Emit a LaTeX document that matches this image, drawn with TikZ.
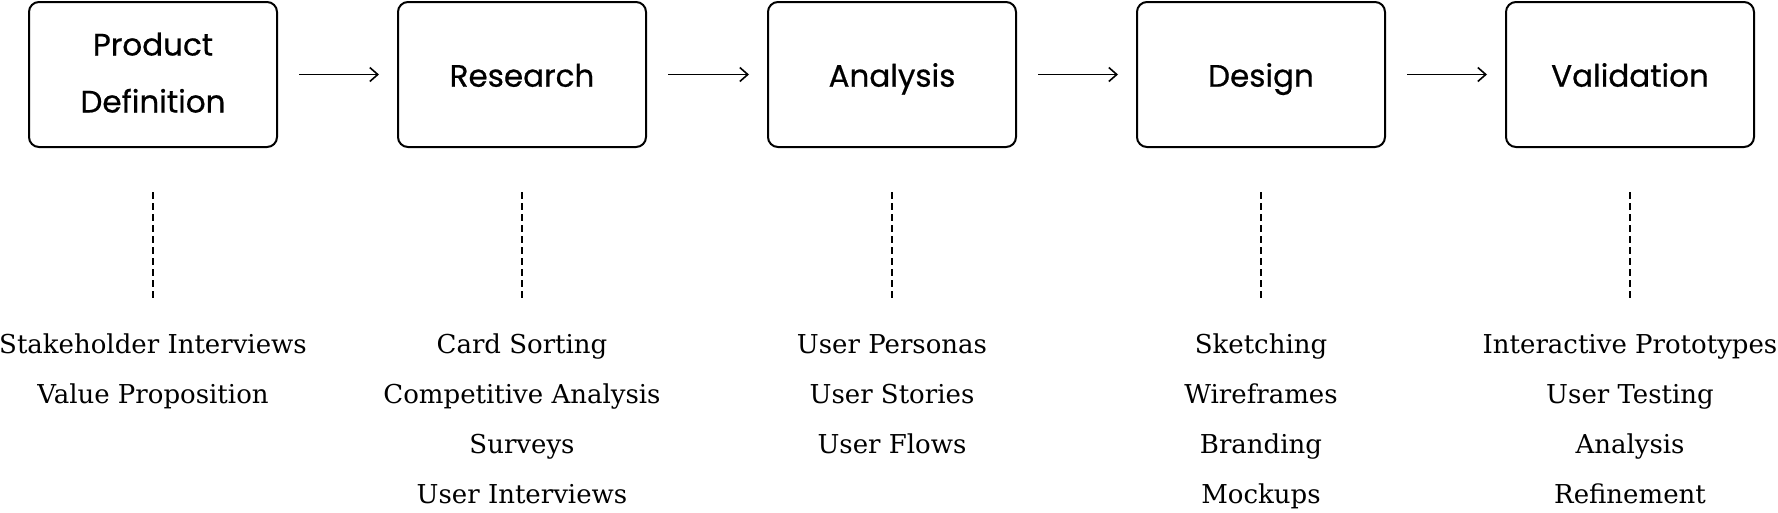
\documentclass[tikz,border=0pt]{standalone}
\usepackage{fontspec}
\newfontfamily\headfont{Poppins}[FakeBold=0.6]
\newfontfamily\itemfont{DejaVu Serif}
\usetikzlibrary{arrows.meta}
\newcommand{\oneline}[1]{\rule[-10pt]{0pt}{44.4pt}#1}
\begin{document}
\begin{tikzpicture}[x=1pt,y=-1pt,
  stage/.style={draw, line width=2pt, rounded corners=10pt, minimum width=248pt,
    minimum height=145pt, inner sep=0pt,
    font=\headfont\fontsize{31}{57}\selectfont},
  flow/.style={line width=1.6pt, -{Straight Barb[length=8pt,width=14pt]}},
  link/.style={line width=1.6pt, dash pattern=on 7pt off 4pt},
  items/.style={anchor=north, align=center, inner sep=0pt,
    font=\itemfont\fontsize{26}{50}\selectfont}]
\useasboundingbox (0,0) rectangle (1778,512);
\node[stage] (pd) at (153,74.5) {\begin{tabular}{@{}c@{}}Product\\Definition\rule[-20.9pt]{0pt}{0pt}\end{tabular}};
\node[stage] (re) at (522,74.5) {\oneline{Research}};
\node[stage] (an) at (892,74.5) {\oneline{Analysis}};
\node[stage] (de) at (1261,74.5) {\oneline{Design}};
\node[stage] (va) at (1630,74.5) {\oneline{Validation}};
\foreach \a/\b in {pd/re,re/an,an/de,de/va}
  \draw[flow] ([xshift=21pt]\a.east) -- ([xshift=-18pt]\b.west);
\node[items] (pdi) at ([yshift=-186pt]pd.south) {Stakeholder Interviews\\Value Proposition};
\node[items] (rei) at ([yshift=-186pt]re.south) {Card Sorting\\Competitive Analysis\\Surveys\\User Interviews};
\node[items] (ani) at ([yshift=-186pt]an.south) {User Personas\\User Stories\\User Flows};
\node[items] (dei) at ([yshift=-186pt]de.south) {Sketching\\Wireframes\\Branding\\Mockups};
\node[items] (vai) at ([yshift=-186pt]va.south) {Interactive Prototypes\\User Testing\\Analysis\\Refinement};
\foreach \a in {pd,re,an,de,va}
  \draw[link] ([yshift=-44pt]\a.south) -- ([yshift=33pt]\a i.north);
\end{tikzpicture}
\end{document}
